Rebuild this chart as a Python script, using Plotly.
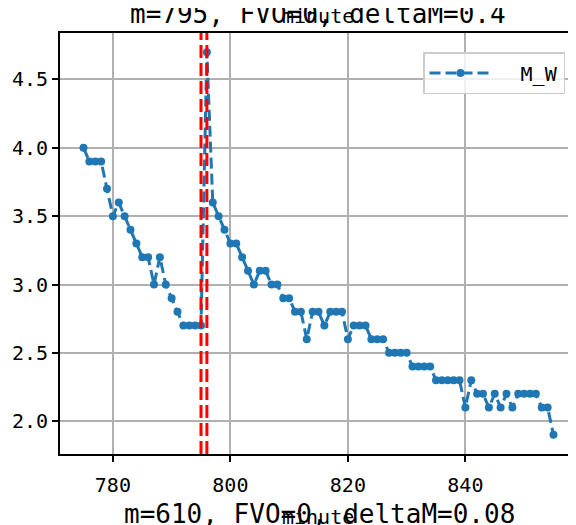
import plotly.graph_objects as go

minutes = list(range(775, 856))
m_w = [4.0, 3.9, 3.9, 3.9, 3.7, 3.5, 3.6, 3.5, 3.4, 3.3,
       3.2, 3.2, 3.0, 3.2, 3.0, 2.9, 2.8, 2.7, 2.7, 2.7,
       2.7, 4.7, 3.6, 3.5, 3.4, 3.3, 3.3, 3.2, 3.1, 3.0,
       3.1, 3.1, 3.0, 3.0, 2.9, 2.9, 2.8, 2.8, 2.6, 2.8,
       2.8, 2.7, 2.8, 2.8, 2.8, 2.6, 2.7, 2.7, 2.7, 2.6,
       2.6, 2.6, 2.5, 2.5, 2.5, 2.5, 2.4, 2.4, 2.4, 2.4,
       2.3, 2.3, 2.3, 2.3, 2.3, 2.1, 2.3, 2.2, 2.2, 2.1,
       2.2, 2.1, 2.2, 2.1, 2.2, 2.2, 2.2, 2.2, 2.1, 2.1,
       1.9]
vlines = [795, 796]
x_ticks = [780, 800, 820, 840]
y_ticks = [2.0, 2.5, 3.0, 3.5, 4.0, 4.5]
title_text = "m=795, FVO=0, deltaM=0.4"
next_title_text = "m=610, FVO=0, deltaM=0.08"
prev_xlabel = "minute"
xlabel = "minute"

FONT = "DejaVu Sans Mono"
OFF = 8  # page body margin offset
W, H = 576, 525
# plot area in screen pixels: x 60..577, y 33..454
L = 60 - OFF
T = 33 - OFF
R = W - (577 - OFF)
B = H - (454 - OFF)
pw, ph = W - L - R, H - T - B

def px_x(p):
    return (p - OFF - L) / pw

def px_y(p):
    return (H - B - (p - OFF)) / ph

fig = go.Figure()
fig.add_trace(go.Scatter(
    x=minutes, y=m_w, name="\u00a0\u00a0M_W", mode="lines+markers",
    line=dict(color="#1f77b4", width=3, dash="11px,5px"),
    marker=dict(color="#1f77b4", size=8),
))

for v in vlines:
    fig.add_shape(type="line", x0=v, x1=v, xref="x", yref="paper", y0=0, y1=1,
                  line=dict(color="red", width=3, dash="13px,5px"), layer="above")

fig.update_layout(
    width=W, height=H,
    margin=dict(l=L, r=R, t=T, b=B, pad=0, autoexpand=False),
    plot_bgcolor="white", paper_bgcolor="white",
    font=dict(family=FONT, size=20, color="black"),
    showlegend=True,
    legend=dict(x=px_x(565), y=px_y(52), xanchor="right", yanchor="top",
                bgcolor="rgba(255,255,255,0.8)", bordercolor="#cccccc", borderwidth=1.5,
                font=dict(family=FONT, size=20), itemwidth=62),
    xaxis=dict(range=[771, 859], tickvals=x_ticks,
               showgrid=True, gridcolor="#b0b0b0", gridwidth=1.5,
               showline=True, linecolor="black", linewidth=2, mirror=True,
               ticks="outside", ticklen=6, tickwidth=1.5, tickcolor="black",
               ticklabelstandoff=6,
               zeroline=False, automargin=False, tickfont=dict(family=FONT, size=20)),
    yaxis=dict(range=[1.76, 4.84], tickvals=y_ticks, tickformat=".1f",
               showgrid=True, gridcolor="#b0b0b0", gridwidth=1.5,
               showline=True, linecolor="black", linewidth=2, mirror=False,
               ticks="outside", ticklen=6, tickwidth=1.5, tickcolor="black",
               zeroline=False, automargin=False, tickfont=dict(family=FONT, size=20)),
)

annots = [
    (title_text, 318, 14, 26),
    (prev_xlabel, 318, 16, 20),
    (next_title_text, 319, 514, 26),
    (xlabel, 318, 517, 20),
]
for txt, x, y, s in annots:
    fig.add_annotation(text=txt, x=px_x(x), y=px_y(y), xref="paper", yref="paper",
                       xanchor="center", yanchor="middle", showarrow=False,
                       font=dict(family=FONT, size=s, color="black"))

fig.write_html("out.html")
